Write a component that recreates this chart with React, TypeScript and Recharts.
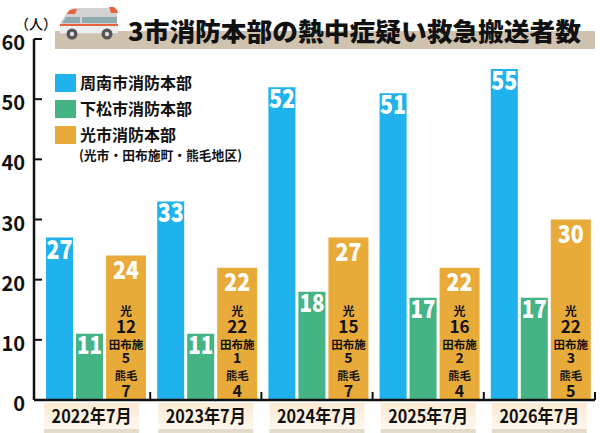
import { Bar, BarChart, LabelList, Legend, XAxis, YAxis } from 'recharts'

const months = ['2022年7月', '2023年7月', '2024年7月', '2025年7月', '2026年7月']
const shunan = [27, 33, 52, 51, 55]
const kudamatsu = [11, 11, 18, 17, 17]
const hikariTotal = [24, 22, 27, 22, 30]
const hikariCity = [12, 22, 15, 16, 22]
const tabuse = [5, 1, 5, 2, 3]
const kumage = [7, 4, 7, 4, 5]
const yTicks = [0, 10, 20, 30, 40, 50, 60]

const data = months.map((month, i) => ({
  month,
  shunan: shunan[i],
  kudamatsu: kudamatsu[i],
  hikari: hikariTotal[i],
}))

const font = '"Noto Sans CJK JP", "Noto Sans", sans-serif'
const ink = '#111'

function YTick({ x, y, payload }: any) {
  return (
    <g>
      <line x1={x} x2={x + 8} y1={y} y2={y} stroke={ink} strokeWidth={2} />
      <text x={x - 9} y={y + 11} textAnchor="end" fontFamily={font} fontWeight={700} fontSize={20} fill={ink}>
        {payload.value}
      </text>
    </g>
  )
}

function XTick({ x, y, payload, index }: any) {
  // the first label sits a little left of its group in the original
  const cx = x - 1 - (index === 0 ? 3 : 0)
  return (
    <g>
      <rect x={cx - 47.5} y={y + 3} width={95} height={26} fill="url(#monthBg)" />
      <rect x={cx - 47.5} y={y + 29} width={95} height={4} fill="#e4dccb" />
      <line x1={x + 54.6} x2={x + 54.6} y1={y} y2={y - 8} stroke={ink} strokeWidth={2} />
      <text
        x={cx}
        y={y + 23}
        textAnchor="middle"
        fontFamily={font}
        fontWeight={700}
        fontSize={18}
        fill={ink}
        textLength={80}
        lengthAdjust="spacingAndGlyphs"
      >
        {payload.value}
      </text>
    </g>
  )
}

// white count at the top of each bar
const topLabel = (dy: number, size: number, length: number) => (props: any) => {
  const { x, y, width, value } = props
  return (
    <text
      x={x + width / 2}
      y={y + dy}
      textAnchor="middle"
      fontFamily={font}
      fontWeight={900}
      fontSize={size}
      fill="#fff"
      textLength={length}
      lengthAdjust="spacingAndGlyphs"
    >
      {value}
    </text>
  )
}

function Breakdown(props: any) {
  const { x, y, width, height, index } = props
  const cx = x + width / 2
  const b = y + height
  const line = (dy: number, size: number, text: string | number) => (
    <text x={cx} y={b + dy} textAnchor="middle" fontFamily={font} fontWeight={700} fontSize={size} fill={ink}>
      {text}
    </text>
  )
  return (
    <g>
      {line(-84, 12, '光')}
      {line(-67, 17, hikariCity[index])}
      {line(-51, 11.5, '田布施')}
      {line(-37, 14, tabuse[index])}
      {line(-20, 11.5, '熊毛')}
      {line(-3, 16, kumage[index])}
    </g>
  )
}

function LegendBox({ payload }: any) {
  return (
    <svg width={200} height={100} style={{ display: 'block' }}>
      {(payload || []).map((entry: any, i: number) => (
        <g key={entry.value}>
          <rect x={0} y={i * 26} width={21} height={18} fill={entry.color} />
          <text x={25} y={i * 26 + 15} fontFamily={font} fontWeight={700} fontSize={16} fill={ink}>
            {entry.value}
          </text>
        </g>
      ))}
      <text x={24} y={86} fontFamily={font} fontWeight={700} fontSize={13} fill={ink} textLength={163} lengthAdjust="spacingAndGlyphs">
        (光市・田布施町・熊毛地区)
      </text>
    </svg>
  )
}

function Header() {
  return (
    <svg width={600} height={60} style={{ position: 'absolute', left: 0, top: 0 }}>
      <rect x={55} y={31} width={540} height={18} fill="#cfc2ae" />
      <path d="M60 24 L66 14 Q68 8 74 8 H110 Q116 8 117 14 V34 H60 Z" fill="#d2d2d2" />
      <path d="M67 14 Q69 9 77 9 L75 14 Z" fill="#e8603c" />
      <path d="M109 7 H114 Q117 9 118 13 H111 Z" fill="#e8603c" />
      <path d="M62 23 L66 17 H80 V23 Z" fill="#8fabb0" />
      <rect x={82} y={17} width={35} height={6} fill="#8fabb0" />
      <rect x={60} y={24} width={58} height={2} fill="#e8603c" />
      <rect x={60} y={26} width={58} height={7} fill="#eeeeee" />
      <circle cx={72} cy={34} r={5.5} fill="#555" />
      <circle cx={72} cy={34} r={2.2} fill="#ddd" />
      <circle cx={107} cy={34} r={5.5} fill="#555" />
      <circle cx={107} cy={34} r={2.2} fill="#ddd" />
      <text x={128} y={41} fontFamily={font} fontWeight={900} fontSize={25} fill={ink} textLength={453} lengthAdjust="spacingAndGlyphs">
        3市消防本部の熱中症疑い救急搬送者数
      </text>
      <text x={15} y={29} fontFamily={font} fontWeight={500} fontSize={14} fill={ink}>
        （人）
      </text>
    </svg>
  )
}

export default function App() {
  return (
    <div style={{ position: 'absolute', left: 0, top: 0, width: 600, height: 433, background: '#fff' }}>
      <Header />
      <BarChart
        width={600}
        height={433}
        data={data}
        barGap={3}
        margin={{ top: 39, right: 5, bottom: 0, left: 0 }}
        style={{ position: 'absolute', left: 0, top: 0 }}
      >
        <defs>
          <linearGradient id="monthBg" x1="0" y1="0" x2="0" y2="1">
            <stop offset="0%" stopColor="#fbe9d2" />
            <stop offset="100%" stopColor="#fef8ef" />
          </linearGradient>
        </defs>
        <XAxis
          dataKey="month"
          height={33}
          interval={0}
          padding={{ left: 6, right: -1 }}
          axisLine={{ stroke: ink, strokeWidth: 2.5 }}
          tickLine={false}
          tickSize={0}
          tickMargin={0}
          tick={<XTick />}
        />
        <YAxis
          width={34}
          domain={[0, 60]}
          ticks={yTicks}
          interval={0}
          axisLine={{ stroke: ink, strokeWidth: 2.5 }}
          tickLine={false}
          tickSize={0}
          tickMargin={0}
          tick={<YTick />}
        />
        <Legend
          layout="vertical"
          align="center"
          verticalAlign="middle"
          itemSorter={null}
          wrapperStyle={{ left: 55, top: 74, width: 200, height: 100 }}
          content={<LegendBox />}
        />
        <Bar dataKey="shunan" name="周南市消防本部" fill="#1fb2ec" barSize={27} isAnimationActive={false}>
          <LabelList dataKey="shunan" content={topLabel(21, 26, 26)} />
        </Bar>
        <Bar dataKey="kudamatsu" name="下松市消防本部" fill="#45b484" barSize={27} isAnimationActive={false}>
          <LabelList dataKey="kudamatsu" content={topLabel(20, 25, 25)} />
        </Bar>
        <Bar dataKey="hikari" name="光市消防本部" fill="#e8aa38" barSize={40} isAnimationActive={false}>
          <LabelList dataKey="hikari" content={topLabel(23, 25, 26)} />
          <LabelList dataKey="hikari" content={<Breakdown />} />
        </Bar>
      </BarChart>
    </div>
  )
}
